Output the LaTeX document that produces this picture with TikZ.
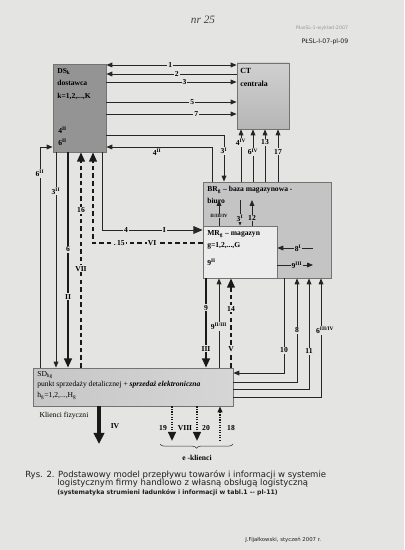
\documentclass[tikz,border=0pt]{standalone}
\usepackage{fontspec}
\setmainfont{Liberation Serif}
\newfontfamily\capfont{DejaVu Sans}
\usetikzlibrary{arrows.meta,fit,decorations.pathreplacing}
\definecolor{paper}{RGB}{228,228,226}
\definecolor{dsgray}{RGB}{148,148,148}
\definecolor{ctA}{RGB}{208,208,208}
\definecolor{ctB}{RGB}{182,182,182}
\definecolor{brgray}{RGB}{196,196,196}
\definecolor{mrfill}{RGB}{236,236,236}
\definecolor{sdA}{RGB}{198,198,198}
\definecolor{sdB}{RGB}{214,214,214}
\begin{document}
\begin{tikzpicture}[x=0.025cm,y=-0.025cm,
  font=\fontsize{5.4}{6.4}\selectfont,
  box/.style={draw=black!55, line width=0.6pt, inner sep=0pt},
  ln/.style={draw=black!85, line width=0.55pt},
  thk/.style={draw=black!90, line width=1.3pt},
  dsh/.style={draw=black!90, line width=1.1pt, dash pattern=on 3.2pt off 2.2pt},
  dtt/.style={draw=black!90, line width=1.5pt, dash pattern=on 0.9pt off 0.9pt},
  ah/.style={-{Triangle[length=4.2pt,width=3.4pt]}},
  ahb/.style={-{Triangle[length=6.5pt,width=5.5pt]}},
  lbl/.style={fill=paper, inner sep=0.7pt, font=\fontsize{5.4}{6}\selectfont\bfseries},
  txt/.style={inner sep=0pt, anchor=north west, align=left},
  captxt/.style={inner sep=0pt, anchor=base west, text=black!88}]

\fill[paper] (0,0) rectangle (404,550);
\useasboundingbox (0,0) rectangle (404,550);

% header
\node[inner sep=0pt, font=\fontsize{8}{9}\selectfont\itshape, text=black!75] (hand) at (203,20) {nr 25};
\node[inner sep=0pt, font=\capfont\fontsize{3.4}{4}\selectfont, text=black!40] (hd1) at (322,28) {PŁwSL-1-wyklad-2007};
\node[inner sep=0pt, font=\capfont\fontsize{4.4}{5}\selectfont, text=black!90] (hd2) at (325,42) {PŁSL-I-07-pl-09};

% boxes
\node[box, fill=dsgray, fit={(53,64)(106,152)}] (DS) {};
\node[box, top color=ctA, bottom color=ctB, fit={(237,63)(289,129)}] (CT) {};
\node[box, fill=brgray, fit={(203,182)(331,278)}] (BR) {};
\node[box, fill=mrfill, fit={(203,226)(277,278)}] (MR) {};
\node[box, left color=sdA, right color=sdB, fit={(33,368)(233,406)}] (SD) {};

% box texts
\node[txt, font=\fontsize{5.4}{8.8}\selectfont\bfseries] (DSt) at (57,68) {DS\textsubscript{k}\\dostawca\\k=1,2,...,K};
\node[txt, font=\fontsize{5.4}{8.6}\selectfont\bfseries] (DSt2) at (58,127) {4\textsuperscript{II}\\6\textsuperscript{II}};
\node[txt, font=\fontsize{5.6}{9.5}\selectfont\bfseries] (CTt) at (240,68) {CT\\centrala};
\node[txt, font=\fontsize{5.4}{8.6}\selectfont\bfseries] (BRt) at (207,186) {BR\textsubscript{g} -- baza magazynowa -\\biuro};
\node[txt, font=\fontsize{5.4}{8.6}\selectfont\bfseries] (MRt) at (207,230) {MR\textsubscript{g} -- magazyn\\g=1,2,...,G};
\node[txt, font=\fontsize{5.4}{6}\selectfont\bfseries] (MRt2) at (207,259) {9\textsuperscript{II}};
\node[txt, font=\fontsize{5.4}{7.4}\selectfont] (SDt) at (37,371) {SD\textsubscript{hg}\\punkt sprzedaży detalicznej + \textbf{\textit{sprzedaż elektroniczna}}\\h\textsubscript{g}=1,2,...,H\textsubscript{g}};

% DS <-> CT
\draw[ln, {Triangle[length=4.2pt,width=3.4pt]}-{Triangle[length=4.2pt,width=3.4pt]}] (DS.east |- 0,65) -- node[lbl,pos=0.49]{1} (CT.west |- 0,65);
\draw[ln, ah] (CT.west |- 0,74) -- node[lbl,pos=0.46]{2} (DS.east |- 0,74);
\draw[ln, ah] (DS.east |- 0,82) -- node[lbl,pos=0.60]{3} (CT.west |- 0,82);
\draw[ln, ah] (DS.east |- 0,102) -- node[lbl,pos=0.66]{5} (CT.west |- 0,102);
\draw[ln, ah] (DS.east |- 0,114) -- node[lbl,pos=0.69]{7} (CT.west |- 0,114);

% DS <-> BR
\draw[ln, ah] (DS.east |- 0,135) -| node[lbl,pos=0.67]{3\textsuperscript{I}} (BR.north -| 224,0);
\draw[ln, ah] (BR.north -| 212,0) |- node[pos=0.76, below=1pt, inner sep=0pt, font=\fontsize{5.4}{6}\selectfont\bfseries]{4\textsuperscript{II}} (DS.east |- 0,147);

% BR -> CT
\draw[ln, ah] (BR.north -| 241,0) -- node[lbl,pos=0.75]{4\textsuperscript{IV}} (CT.south -| 241,0);
\draw[ln, ah] (BR.north -| 253,0) -- node[lbl,pos=0.57]{6\textsuperscript{IV}} (CT.south -| 253,0);
\draw[ln, ah] (BR.north -| 265,0) -- node[lbl,pos=0.75]{13} (CT.south -| 265,0);
\draw[ln, ah] (BR.north -| 278,0) -- node[lbl,pos=0.57]{17} (CT.south -| 278,0);

% BR <-> MR
\coordinate (bA) at (219,200);
\coordinate (bB) at (240,200);
\coordinate (bC) at (252,200);
\draw[ln, ah] (MR.north -| bA) -- node[pos=0.38, fill=brgray, inner sep=0.5pt, font=\fontsize{3.4}{4}\selectfont\bfseries]{II/III/IV} (bA);
\draw[ln, ah] (bB) -- node[pos=0.7, fill=brgray, inner sep=0.6pt, font=\fontsize{5.4}{6}\selectfont\bfseries]{3\textsuperscript{I}} (MR.north -| bB);
\draw[ln, ah] (MR.north -| bC) -- node[pos=0.3, fill=brgray, inner sep=0.6pt, font=\fontsize{5.4}{6}\selectfont\bfseries]{12} (bC);
\coordinate (e8) at (313,248);
\coordinate (e9) at (313,265);
\draw[ln, ah] (e8) -- node[pos=0.42, fill=brgray, inner sep=0.6pt, font=\fontsize{5.4}{6}\selectfont\bfseries]{8\textsuperscript{I}} (MR.east |- e8);
\draw[ln, ah] (MR.east |- e9) -- node[pos=0.55, fill=brgray, inner sep=0.6pt, font=\fontsize{5.4}{6}\selectfont\bfseries]{9\textsuperscript{III}} (e9);

% DS <-> MR
\draw[ln, ahb] (DS.south -| 102,0) |- node[lbl,pos=0.62]{4} node[lbl,pos=0.81]{I} (MR.west |- 0,230);
\draw[dsh, ahb] (MR.west |- 0,243) -| node[lbl,pos=0.38]{.\,15} node[lbl,pos=0.23]{VI} (DS.south -| 93,0);

% DS <-> SD
\draw[dsh, ahb] (SD.north -| 81,0) -- node[lbl,pos=0.73]{16} node[lbl,pos=0.46]{VII} (DS.south -| 81,0);
\draw[thk, ahb] (DS.south -| 68,0) -- node[lbl,pos=0.45]{6} node[lbl,pos=0.67]{II} (SD.north -| 68,0);
\draw[ln, ah] (DS.south -| 56,0) -- node[lbl,pos=0.18]{3\textsuperscript{II}} (SD.north -| 56,0);
\draw[ln, ah] (SD.north -| 40,0) |- node[lbl,pos=0.44]{6\textsuperscript{II}} (DS.west |- 0,147);

% MR <-> SD
\draw[thk, ahb] (MR.south -| 206,0) -- node[lbl,pos=0.33]{9} node[lbl,pos=0.79]{III} (SD.north -| 206,0);
\draw[ln, ah] (SD.north -| 219,0) -- node[lbl,pos=0.46]{9\textsuperscript{II/III}} (MR.south -| 219,0);
\draw[dsh, ahb] (SD.north -| 231,0) -- node[lbl,pos=0.66]{14} node[lbl,pos=0.21]{V} (MR.south -| 231,0);

% BR <-> SD
\draw[ln, ah] (BR.south -| 284,0) |- node[lbl,pos=0.38]{10} (SD.east |- 0,373);
\draw[ln, ah] (SD.east |- 0,382) -| node[lbl,pos=0.75]{8} (BR.south -| 297,0);
\draw[ln, ah] (SD.east |- 0,389) -| node[lbl,pos=0.67]{11} (BR.south -| 309,0);
\draw[ln, ah] (SD.east |- 0,397) -| node[lbl,pos=0.78,xshift=3pt]{6\textsuperscript{III/IV}} (BR.south -| 321,0);

% customers
\coordinate (kf) at (99,444);
\draw[draw=black!90, line width=2.2pt, -{Triangle[length=8pt,width=7.5pt]}] (SD.south -| kf) -- (kf);
\node[inner sep=0pt, font=\fontsize{5.4}{6}\selectfont\bfseries] (lIV) at (115,426) {IV};
\node[inner sep=0pt] (kfiz) at (64,416) {Klienci fizyczni};

\coordinate (c19) at (172,441);
\coordinate (c20) at (197,441);
\coordinate (c18) at (220,441);
\draw[dtt, ahb] (SD.south -| c19) -- (c19);
\draw[dtt, ahb] (SD.south -| c20) -- (c20);
\draw[dtt, ah] (c18) -- (SD.south -| c18);
\node[lbl] (l19) at (163,428) {19};
\node[lbl] (lVIII) at (185,428) {VIII};
\node[lbl] (l20) at (206,428) {20};
\node[lbl] (l18) at (231,428) {18};
\coordinate (brL) at (160,444);
\coordinate (brR) at (233,444);
\draw[draw=black!80, line width=0.4pt, decorate, decoration={brace, amplitude=3pt, mirror}] (brL) -- (brR);
\node[inner sep=0pt, font=\fontsize{5.4}{6}\selectfont\bfseries] (ekl) at (197,458) {e -klienci};

% caption
\node[captxt, font=\capfont\fontsize{6.05}{7}\selectfont] (cap1) at (25,477) {Rys. 2. Podstawowy model przepływu towarów i informacji w systemie};
\node[captxt, font=\capfont\fontsize{6.05}{7}\selectfont] (cap2) at (57,485) {logistycznym firmy handlowo z własną obsługą logistyczną};
\node[captxt, font=\capfont\bfseries\fontsize{4.4}{5}\selectfont] (cap3) at (57,494) {(systematyka strumieni ładunków i informacji w tabl.1 -- pl-11)};
\node[captxt, font=\capfont\fontsize{3.8}{4.5}\selectfont] (sig) at (245,541) {J.Fijałkowski, styczeń 2007 r.};
\end{tikzpicture}
\end{document}
